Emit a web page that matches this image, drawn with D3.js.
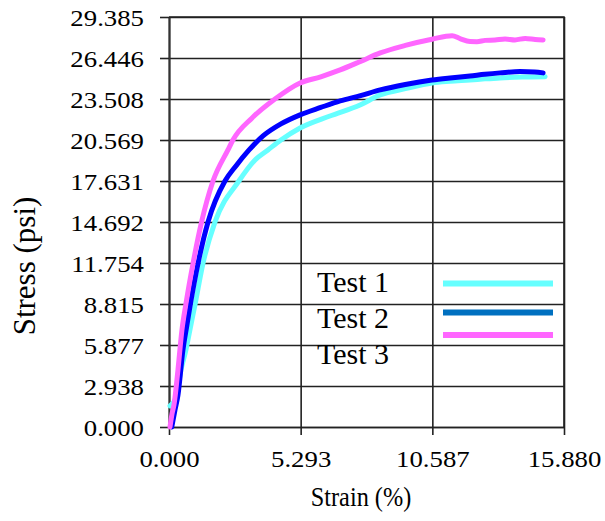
<!DOCTYPE html>
<html><head><meta charset="utf-8">
<script src="https://cdn.jsdelivr.net/npm/d3@7/dist/d3.min.js"></script>
<style>
html,body{margin:0;padding:0;background:#fff;}
svg{display:block;}
svg text{font-family:"Liberation Serif","Times New Roman","DejaVu Serif",serif;}
</style></head>
<body>
<svg id="chart" width="605" height="521"></svg>
<script>
// ---- data ----
const seriesNames = ["Test 1", "Test 2", "Test 3"];
const xTicks = [0, 5.293, 10.587, 15.880];
const xTickLabels = ["0.000", "5.293", "10.587", "15.880"];
const yTicks = [0, 2.938, 5.877, 8.815, 11.754, 14.692, 17.631, 20.569, 23.508, 26.446, 29.385];
const yTickLabels = ["0.000", "2.938", "5.877", "8.815", "11.754", "14.692", "17.631", "20.569", "23.508", "26.446", "29.385"];

const test1Strain = [0.04, 0.28, 0.48, 0.68, 0.84, 1.05, 1.37, 1.85, 2.81, 3.46, 3.98, 4.50, 5.27, 6.47, 7.68, 8.49, 9.50, 10.57, 11.30, 12.10, 12.70, 13.31, 14.20, 15.12];
const test1Stress = [1.51, 2.08, 4.09, 5.52, 6.95, 8.82, 11.76, 14.70, 17.63, 19.14, 19.86, 20.57, 21.43, 22.29, 23.08, 23.80, 24.25, 24.66, 24.78, 24.87, 24.95, 25.02, 25.08, 25.11];

const test2Strain = [0.11, 0.24, 0.36, 0.56, 0.72, 0.86, 1.17, 1.57, 2.25, 2.69, 3.22, 3.78, 4.50, 5.27, 6.10, 6.88, 7.70, 8.49, 9.50, 10.57, 11.30, 12.10, 12.70, 13.31, 14.11, 14.70, 15.04];
const test2Stress = [0.00, 1.22, 2.29, 5.52, 7.31, 8.82, 11.76, 14.70, 17.63, 18.71, 19.86, 20.86, 21.72, 22.37, 22.90, 23.37, 23.75, 24.16, 24.55, 24.87, 25.02, 25.16, 25.28, 25.38, 25.48, 25.45, 25.38];

const test3Strain = [0.04, 0.12, 0.20, 0.36, 0.52, 0.68, 0.97, 1.31, 1.77, 2.37, 2.57, 3.34, 4.26, 5.27, 6.10, 6.88, 7.70, 8.49, 9.50, 10.57, 11.38, 11.70, 12.10, 12.38, 12.71, 13.11, 13.51, 13.91, 14.32, 14.72, 15.04];
const test3Stress = [0.00, 0.93, 1.58, 4.09, 6.95, 8.82, 11.76, 14.70, 17.63, 19.86, 20.57, 22.15, 23.51, 24.66, 25.10, 25.59, 26.20, 26.81, 27.35, 27.79, 28.05, 27.84, 27.63, 27.62, 27.71, 27.74, 27.81, 27.74, 27.85, 27.78, 27.74];

const lineColors = ["#66ffff", "#0000ff", "#ff66ff"];
const legendColors = ["#66ffff", "#0070c0", "#ff66ff"];

// ---- layout ----
const svg = d3.select("#chart");
const L = 169, R = 564, T = 17, B = 427;
const x = d3.scaleLinear().domain([0, 15.880]).range([L, R]);
const y = d3.scaleLinear().domain([0, 29.385]).range([B, T]);

// gridlines
svg.append("g").attr("transform", `translate(${L},0)`)
  .call(d3.axisLeft(y).tickValues(yTicks).tickSize(-(R - L)).tickFormat(""))
  .call(g => g.select(".domain").remove())
  .call(g => g.selectAll("line").attr("stroke", "#222").attr("stroke-width", 1.6));
svg.append("g").attr("transform", `translate(0,${B})`)
  .call(d3.axisBottom(x).tickValues(xTicks).tickSize(-(B - T)).tickFormat(""))
  .call(g => g.select(".domain").remove())
  .call(g => g.selectAll("line").attr("stroke", "#222").attr("stroke-width", 1.6));

// axes with outer ticks and labels
const yAxis = svg.append("g").attr("transform", `translate(${L},0)`)
  .call(d3.axisLeft(y).tickValues(yTicks).tickSize(9).tickSizeOuter(0)
    .tickFormat((d, i) => yTickLabels[i]));
yAxis.attr("font-family", null);
yAxis.select(".domain").attr("stroke", "#333").attr("stroke-width", 2);
yAxis.selectAll("line").attr("stroke", "#222").attr("stroke-width", 1.6);
yAxis.selectAll("text")
  .attr("x", null).attr("dy", null).attr("text-anchor", "end")
  .attr("transform", "translate(-25,8) scale(1.14,1)")
  .attr("font-size", 23.5).attr("fill", "#000");

const xAxis = svg.append("g").attr("transform", `translate(0,${B})`)
  .call(d3.axisBottom(x).tickValues(xTicks).tickSize(8).tickSizeOuter(0)
    .tickFormat((d, i) => xTickLabels[i]));
xAxis.attr("font-family", null);
xAxis.select(".domain").attr("stroke", "#222").attr("stroke-width", 1.6);
xAxis.selectAll("line").attr("stroke", "#222").attr("stroke-width", 1.6);
xAxis.selectAll("text")
  .attr("y", null).attr("dy", null).attr("text-anchor", "middle")
  .attr("transform", "translate(0,40) scale(1.14,1)")
  .attr("font-size", 23.5).attr("fill", "#000");

// frame (top & right)
svg.append("path")
  .attr("d", `M${L},${T}H${R}V${B}`)
  .attr("fill", "none").attr("stroke", "#222").attr("stroke-width", 1.6);

// series
const allSeries = [
  test1Strain.map((s, i) => [s, test1Stress[i]]),
  test2Strain.map((s, i) => [s, test2Stress[i]]),
  test3Strain.map((s, i) => [s, test3Stress[i]])
];
const line = d3.line().x(d => x(d[0])).y(d => y(d[1])).curve(d3.curveMonotoneX);
allSeries.forEach((data, i) => {
  svg.append("path").datum(data)
    .attr("d", line)
    .attr("fill", "none").attr("stroke", lineColors[i])
    .attr("stroke-width", 5).attr("stroke-linejoin", "round").attr("stroke-linecap", "round");
});

// legend
const legTextY = [292, 328, 364];
const legLineY = [283.5, 312.5, 335];
seriesNames.forEach((name, i) => {
  svg.append("text").attr("x", 317).attr("y", legTextY[i])
    .attr("font-size", 30).attr("fill", "#000").text(name);
  svg.append("line").attr("x1", 443).attr("x2", 553)
    .attr("y1", legLineY[i]).attr("y2", legLineY[i])
    .attr("stroke", legendColors[i]).attr("stroke-width", 6);
});

// axis titles
svg.append("text").attr("transform", "translate(361,506) scale(0.9,1)").attr("text-anchor", "middle")
  .attr("font-size", 27).attr("fill", "#000").text("Strain (%)");
svg.append("text").attr("transform", "translate(35,266) rotate(-90)")
  .attr("text-anchor", "middle").attr("font-size", 31).attr("fill", "#000").text("Stress (psi)");
</script>
</body></html>
